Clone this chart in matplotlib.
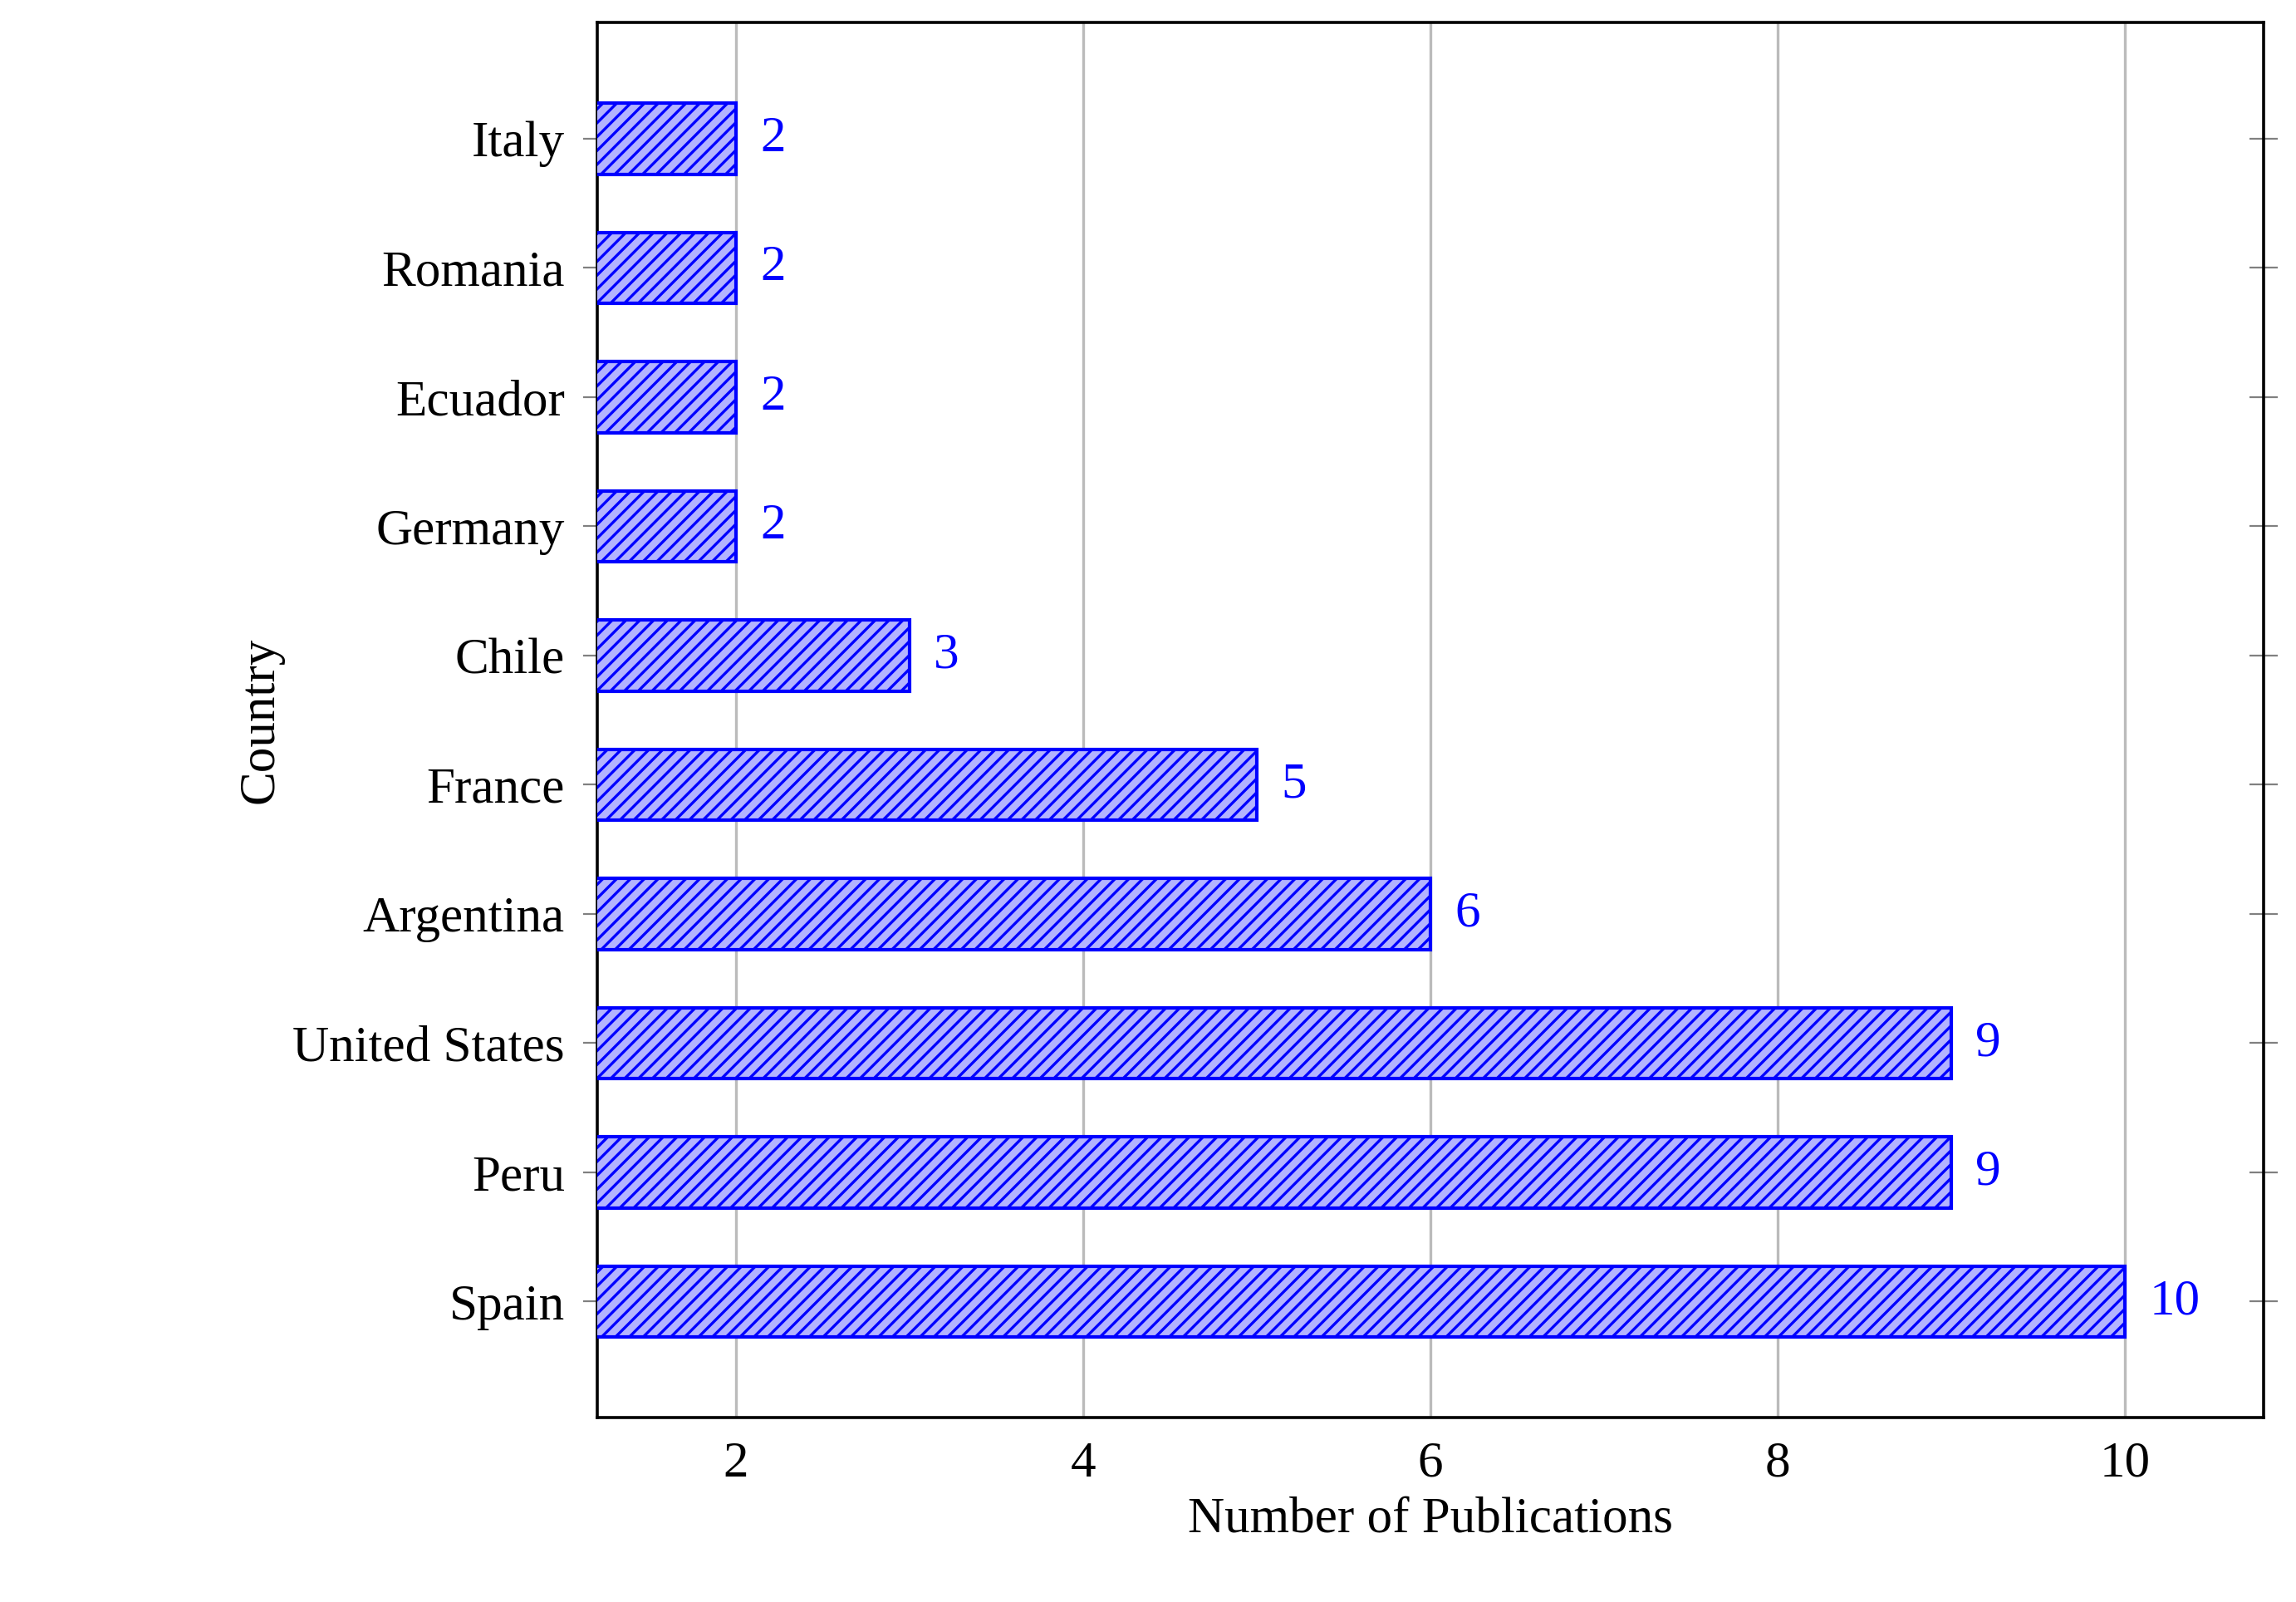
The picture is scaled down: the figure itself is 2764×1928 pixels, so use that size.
import matplotlib.pyplot as plt

countries = ['Spain', 'Peru', 'United States', 'Argentina', 'France',
             'Chile', 'Germany', 'Ecuador', 'Romania', 'Italy']
counts = [10, 9, 9, 6, 5, 3, 2, 2, 2, 2]

plt.rcParams['font.family'] = ['Liberation Serif', 'DejaVu Serif']
plt.rcParams['hatch.color'] = '#1a1a4d'
plt.rcParams['hatch.linewidth'] = 1.2

fig = plt.figure(figsize=(13.82, 9.64), dpi=200)
ax = fig.add_axes([0.26, 0.115, 0.726, 0.871])

y = range(len(countries))
ax.barh(y, counts, height=0.55, left=0, color='#b3b3ff', edgecolor='blue',
        hatch='////', linewidth=1.5, zorder=3)
for yi, c in zip(y, counts):
    ax.text(c + 0.14, yi, str(c), color='blue', va='center', ha='left', fontsize=22)

ax.set_xlim(1.2, 10.8)
ax.set_ylim(-0.9, 9.9)
ax.set_yticks(list(y))
ax.set_yticklabels(countries, fontsize=22)
ax.set_xticks([2, 4, 6, 8, 10])
ax.tick_params(axis='x', labelsize=22, length=0, pad=10)
ax.tick_params(axis='y', direction='inout', length=12, color='gray', right=True, pad=8)
ax.grid(axis='x', color='#bbbbbb', linewidth=1.2, zorder=0)
for s in ax.spines.values():
    s.set_linewidth(1.3)
ax.set_xlabel('Number of Publications', fontsize=22)
ax.set_ylabel('Country', fontsize=22)

fig.savefig('out.png', dpi=200)
